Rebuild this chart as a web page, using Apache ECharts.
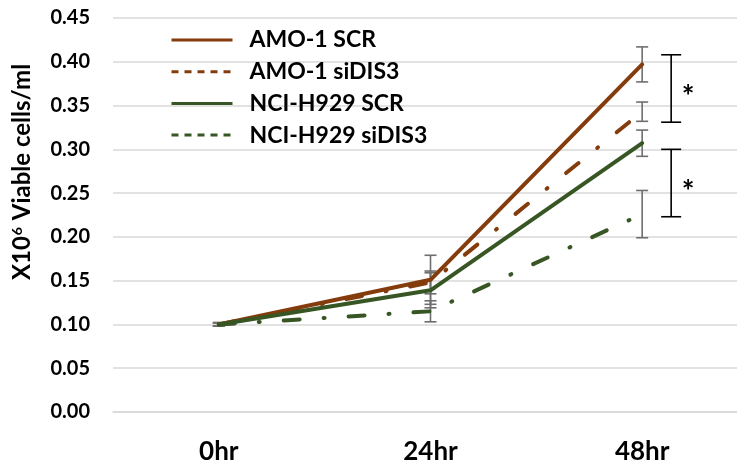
<!DOCTYPE html>
<html><head><meta charset="utf-8">
<script src="https://cdn.jsdelivr.net/npm/echarts@6/dist/echarts.min.js"></script>
<style>html,body{margin:0;padding:0;background:#fff}#c{width:737px;height:468px}</style>
</head><body><div id="c"></div>
<script>
const categories = ['0hr', '24hr', '48hr'];
const seriesNames = ['AMO-1 SCR', 'AMO-1 siDIS3', 'NCI-H929 SCR', 'NCI-H929 siDIS3'];
const amoScr = [0.100, 0.151, 0.397];
const amoScrErr = [0.002, 0.028, 0.020];
const amoSi = [0.100, 0.148, 0.343];
const amoSiErr = [0.002, 0.013, 0.011];
const nciScr = [0.100, 0.139, 0.307];
const nciScrErr = [0.002, 0.020, 0.015];
const nciSi = [0.100, 0.115, 0.226];
const nciSiErr = [0.002, 0.012, 0.027];
const sigBrackets = [[0.331, 0.408], [0.223, 0.300]];
const sigLabel = '*';
const yTitle = 'X10{s|6} Viable cells/ml';

const BROWN = '#843C0C', GREEN = '#375623';
const FONT = 'Lato';
const values = [amoScr, amoSi, nciScr, nciSi];
const errs = [amoScrErr, amoSiErr, nciScrErr, nciSiErr];
const colors = [BROWN, BROWN, GREEN, GREEN];
const dashed = [false, true, false, true];
const dashPattern = [16, 24, 1, 24];

const errData = [];
values.forEach((v, s) => v.forEach((y, i) => errData.push([i, y - errs[s][i], y + errs[s][i]])));

const chart = echarts.init(document.getElementById('c'), null, {renderer: 'canvas'});
const series = [];
series.push({
  type: 'custom', name: 'err', silent: true, z: 1,
  data: errData, encode: {x: 0, y: [1, 2]},
  renderItem: function (params, api) {
    const lo = api.coord([api.value(0), api.value(1)]);
    const hi = api.coord([api.value(0), api.value(2)]);
    const w = 6;
    const st = {stroke: '#6e6e6e', lineWidth: 1.6};
    return {type: 'group', children: [
      {type: 'line', shape: {x1: lo[0], y1: lo[1], x2: hi[0], y2: hi[1]}, style: st},
      {type: 'line', shape: {x1: lo[0] - w, y1: lo[1], x2: lo[0] + w, y2: lo[1]}, style: st},
      {type: 'line', shape: {x1: hi[0] - w, y1: hi[1], x2: hi[0] + w, y2: hi[1]}, style: st}
    ]};
  }
});
values.forEach((v, s) => {
  series.push({
    type: 'line', name: seriesNames[s], data: v, symbol: 'none', z: 3,
    lineStyle: {color: colors[s], width: 4, type: dashed[s] ? dashPattern : 'solid', cap: 'round', join: 'round'},
    itemStyle: {color: colors[s]}
  });
});
series.push({
  type: 'custom', name: 'sig', silent: true, z: 2,
  data: sigBrackets.map(b => [2, b[0], b[1]]), encode: {x: 0, y: [1, 2]},
  renderItem: function (params, api) {
    const lo = api.coord([api.value(0), api.value(1)]);
    const hi = api.coord([api.value(0), api.value(2)]);
    const x = lo[0] + 29, w = 10;
    const st = {stroke: '#000', lineWidth: 1.6};
    return {type: 'group', children: [
      {type: 'line', shape: {x1: x, y1: lo[1], x2: x, y2: hi[1]}, style: st},
      {type: 'line', shape: {x1: x - w, y1: lo[1], x2: x + w, y2: lo[1]}, style: st},
      {type: 'line', shape: {x1: x - w, y1: hi[1], x2: x + w, y2: hi[1]}, style: st},
      {type: 'text', x: x + 17, y: (lo[1] + hi[1]) / 2 + 9, style: {text: sigLabel, fill: '#000', font: 'bold 30px ' + FONT, align: 'center', verticalAlign: 'middle'}}
    ]};
  }
});

chart.setOption({
  backgroundColor: '#fff',
  animation: false,
  textStyle: {fontFamily: FONT},
  grid: {left: 113, top: 18, width: 635, bottom: 56, outerBoundsMode: 'none', containLabel: false},
  legend: {
    orient: 'vertical', left: 170, top: 28, padding: 0,
    itemWidth: 61, itemHeight: 24, itemGap: 7.7,
    textStyle: {fontFamily: FONT, fontWeight: 'bold', fontSize: 23, lineHeight: 24, color: '#000', padding: [0, 0, 0, 12]},
    data: seriesNames.map((n, s) => ({
      name: n,
      itemStyle: {opacity: 0},
      lineStyle: dashed[s] ? {type: [7, 6], width: 3, cap: 'butt'} : {width: 3, cap: 'butt'}
    }))
  },
  xAxis: {
    type: 'category', data: categories, boundaryGap: true,
    axisLine: {lineStyle: {color: '#d9d9d9', width: 1.5}},
    axisTick: {show: false},
    axisLabel: {fontFamily: FONT, fontWeight: 'bold', fontSize: 26, color: '#000', margin: 27}
  },
  yAxis: {
    type: 'value', min: 0, max: 0.45, interval: 0.05,
    axisLine: {show: false}, axisTick: {show: false},
    splitLine: {lineStyle: {color: '#d9d9d9', width: 1.5}},
    axisLabel: {fontFamily: FONT, fontWeight: 'bold', fontSize: 20, color: '#000', margin: 23,
      formatter: v => v.toFixed(2)}
  },
  graphic: [{
    type: 'text', x: 22, y: 172, rotation: Math.PI / 2,
    style: {
      text: yTitle, fill: '#000', align: 'center', verticalAlign: 'middle',
      font: 'bold 24px ' + FONT,
      rich: {s: {font: 'bold 14px ' + FONT, fill: '#000', verticalAlign: 'top', padding: [0, 1, 10, 1]}}
    }
  }],
  series: series
});
</script></body></html>
